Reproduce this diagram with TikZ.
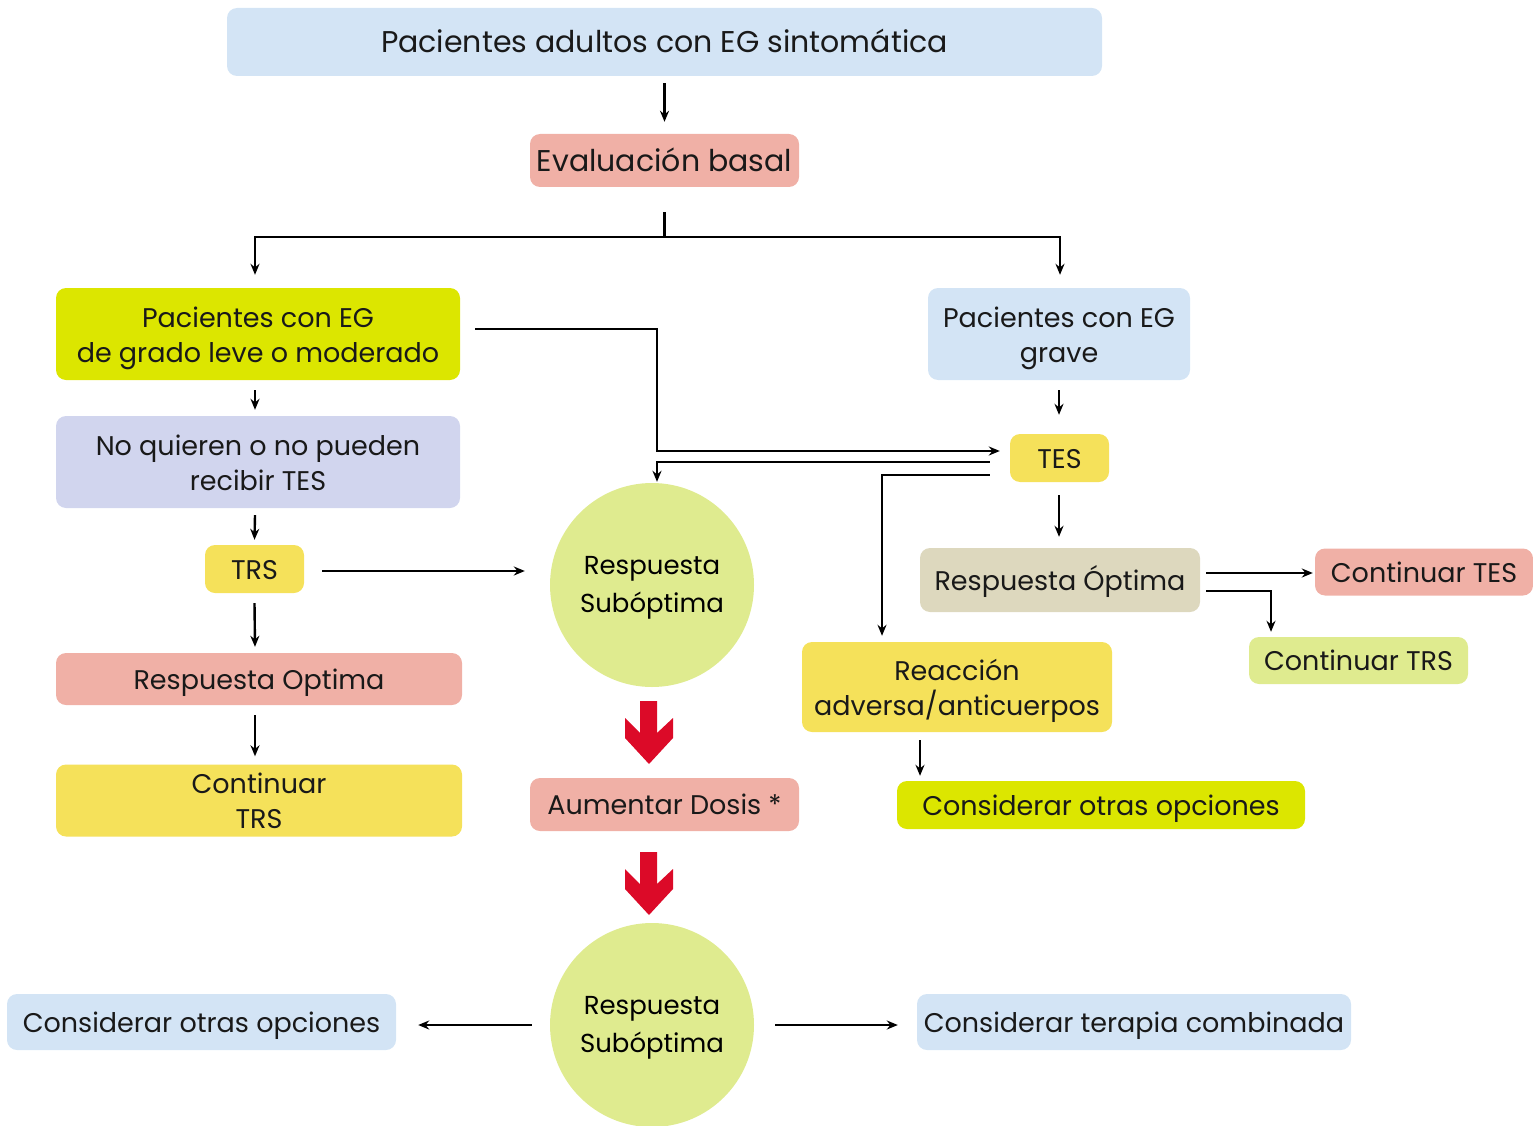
\documentclass[tikz,border=0pt]{standalone}
\usepackage{fontspec}
\setmainfont{Poppins}
\usetikzlibrary{arrows.meta,calc}

\definecolor{cblue}{HTML}{D3E4F5}
\definecolor{csalmon}{HTML}{F0B0A6}
\definecolor{clime}{HTML}{DCE600}
\definecolor{clav}{HTML}{D1D5EE}
\definecolor{cyellow}{HTML}{F5E15A}
\definecolor{cbeige}{HTML}{DDD8BE}
\definecolor{cpale}{HTML}{DFEB8F}
\definecolor{cred}{HTML}{DC0A28}

\tikzset{
  % fixed text height/depth keep every label at the same vertical position
  % (for multi-line text the baseline is that of the last line)
  box/.style={rounded corners=10pt, inner sep=0pt, align=center,
    font=\fontsize{27}{35}\selectfont, text=black!90,
    text height=28pt, text depth=8pt},
  twoline/.style={text height=64pt, text depth=8pt},
  bigbox/.style={box, font=\fontsize{30}{35}\selectfont,
    text height=31pt, text depth=9pt},
  disc/.style={circle, fill=cpale, inner sep=0pt, minimum size=204pt,
    align=center, font=\fontsize{26}{38}\selectfont,
    text height=62pt, text depth=8pt},
  line/.style={line width=2.4pt, draw=black},
  arr/.style={line, -{Stealth[length=11pt,width=9pt]}},
  bigdown/.pic={\fill[cred] (-9,0) -- (8,0) -- (8,32) -- (24,17) -- (24,37)
      -- (0,63) -- (-24,37) -- (-24,17) -- (-9,32) -- cycle;}
}

\begin{document}
\begin{tikzpicture}[x=1pt,y=-1pt]
\useasboundingbox (0,0) rectangle (1533,1126);
\begin{scope}
\clip (0,0) rectangle (1533,1126);

% ---- boxes ----
\node[bigbox, fill=cblue, minimum width=875pt, minimum height=68pt] (top) at (664.5,42) {Pacientes adultos con EG sintomática};
\node[bigbox, fill=csalmon, minimum width=269pt, minimum height=53pt] (eval) at (664.5,160.5) {Evaluación basal};

\node[box, twoline, fill=clime, minimum width=404pt, minimum height=92pt] (mild) at (258,334) {Pacientes con EG\\de grado leve o moderado};
\node[box, twoline, fill=cblue, minimum width=262pt, minimum height=92pt] (grave) at (1059,334) {Pacientes con EG\\grave};

\node[box, twoline, fill=clav, minimum width=404pt, minimum height=92pt] (noq) at (258,462) {No quieren o no pueden\\recibir TES};
\node[box, fill=cyellow, minimum width=99pt, minimum height=48pt] (trs) at (254.5,569) {TRS};
\node[box, fill=csalmon, minimum width=406pt, minimum height=52pt] (ropt) at (259,679) {Respuesta Optima};
\node[box, twoline, fill=cyellow, minimum width=406pt, minimum height=69pt] (ctrs) at (259,800.5) {Continuar\\TRS};

\node[disc] (circ1) at (652,585) {Respuesta\\Subóptima};
\node[box, fill=csalmon, minimum width=269pt, minimum height=53pt] (aum) at (664.5,804.5) {Aumentar Dosis *};
\node[disc] (circ2) at (652,1025) {Respuesta\\Subóptima};

\node[box, fill=cyellow, minimum width=99pt, minimum height=48pt] (tes) at (1059.5,458) {TES};
\node[box, fill=cbeige, minimum width=280pt, minimum height=64pt] (ropt2) at (1060,580) {Respuesta Óptima};
\node[box, fill=csalmon, minimum width=218pt, minimum height=47pt] (ctes) at (1424,572) {Continuar TES};
\node[box, fill=cpale, minimum width=219pt, minimum height=47pt] (ctrs2) at (1358.5,660.5) {Continuar TRS};
\node[box, twoline, fill=cyellow, minimum width=310pt, minimum height=90pt] (reac) at (957,687) {Reacción\\adversa/anticuerpos};
\node[box, fill=clime, minimum width=408pt, minimum height=48pt] (cons1) at (1101,805) {Considerar otras opciones};

\node[box, fill=cblue, minimum width=389pt, minimum height=56pt] (cons2) at (201.5,1022) {Considerar otras opciones};
\node[box, fill=cblue, minimum width=434pt, minimum height=56pt] (comb) at (1134,1022) {Considerar terapia combinada};

% ---- connectors ----
\draw[arr] ($(top.south)+(0,7)$) -- ($(eval.north)+(0,-12)$);

\coordinate (fork) at (664.5,237);
\draw[line] ($(eval.south)+(0,25)$) -- (fork);
\draw[arr] (fork) -| ($(mild.north)+(-3,-13)$);
\draw[arr] (fork) -| ($(grave.north)+(1,-13)$);

% left column
\draw[arr] ($(mild.south)+(-3,10)$) -- ($(noq.north)+(-3,-6)$);
\draw[arr] ($(noq.south)+(-3,7)$) -- ($(trs.north)+(0,-5)$);
\draw[arr] ($(trs.south)+(0,10)$) -- ($(ropt.north)+(-4,-6)$);
\draw[arr] ($(ropt.south)+(-4,10)$) -- ($(ctrs.north)+(-4,-8)$);
\draw[arr] ($(trs.east)+(18,2)$) -- ($(circ1.west)+(-25,-14)$);

% mild -> TES, TES -> sub-optimal response and adverse reaction
\coordinate (k1) at (657,451);
\draw[arr] ($(mild.east)+(15,-5)$) -| (k1) -- ($(tes.west)+(-10,-7)$);
\draw[arr] ($(tes.west)+(-20,4)$) -| ($(circ1.north)+(5,-1)$);
\draw[arr] ($(tes.west)+(-20,17)$) -| ($(reac.north)+(-75,-6)$);

% right column
\draw[arr] ($(grave.south)+(0,10)$) -- ($(tes.north)+(-0.5,-19)$);
\draw[arr] ($(tes.south)+(-0.5,13)$) -- ($(ropt2.north)+(-1,-11)$);
\draw[arr] ($(ropt2.east)+(6,-7)$) -- ($(ctes.west)+(-2,1)$);
\draw[arr] ($(ropt2.east)+(6,11)$) -| ($(ctrs2.north)+(-87.5,-5)$);
\draw[arr] ($(reac.south)+(-37,8)$) -- ($(cons1.north)+(-181,-5)$);

% bottom
\draw[arr] ($(circ2.west)+(-18,0)$) -- ($(cons2.east)+(22,3)$);
\draw[arr] ($(circ2.east)+(21,0)$) -- ($(comb.west)+(-19,3)$);

% dose escalation arrows
\pic at (649,701) {bigdown};
\pic at (649,852) {bigdown};
\end{scope}
\end{tikzpicture}
\end{document}
